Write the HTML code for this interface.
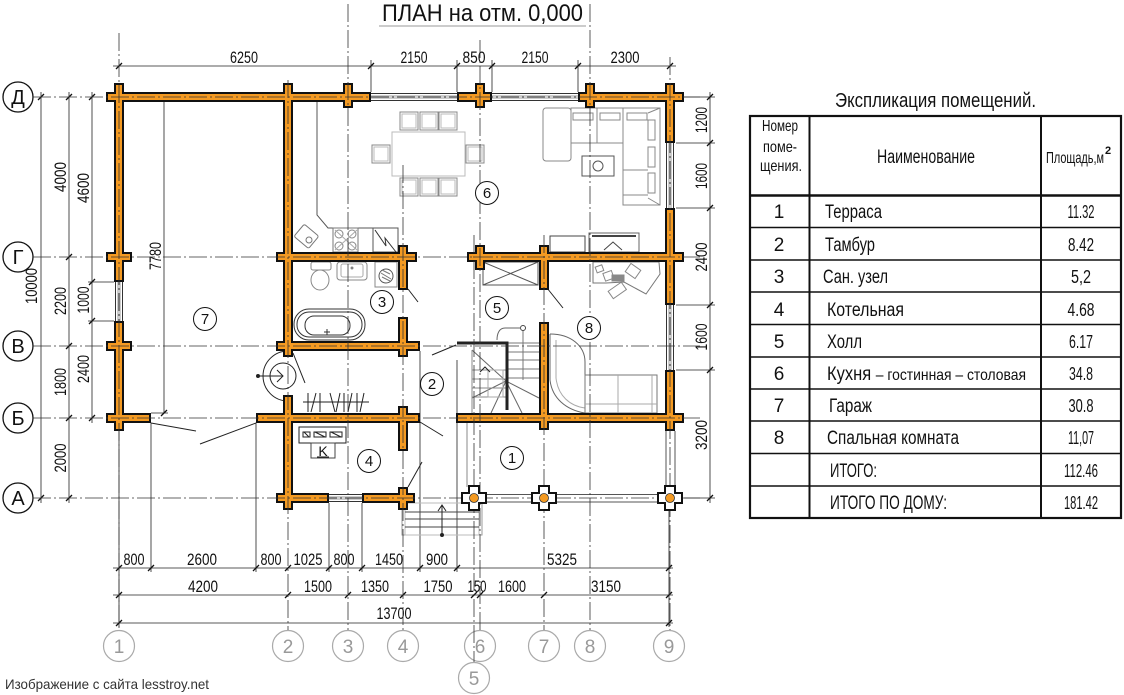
<!DOCTYPE html>
<html><head><meta charset="utf-8">
<style>
html,body{margin:0;padding:0;background:#fff;}
svg{display:block;}
text{font-family:"Liberation Sans Narrow","Liberation Sans","DejaVu Sans Condensed",sans-serif;fill:#111;}
</style></head><body>
<svg width="1124" height="695" viewBox="0 0 1124 695" xmlns="http://www.w3.org/2000/svg">
<rect width="1124" height="695" fill="#fff"/>

<!-- Title -->
<text x="382" y="21" font-size="24" textLength="201" lengthAdjust="spacingAndGlyphs">ПЛАН на отм. 0,000</text>
<line x1="379" y1="26" x2="586" y2="26" stroke="#999" stroke-width="1"/>

<!-- thin extension / dimension lines -->
<g stroke="#222" stroke-width="0.8" fill="none">
 <!-- top dim -->
 <line x1="113" y1="66" x2="676" y2="66"/>
 <line x1="371" y1="60" x2="371" y2="92"/>
 <line x1="457" y1="60" x2="457" y2="92"/>
 <line x1="492" y1="60" x2="492" y2="92"/>
 <line x1="578" y1="60" x2="578" y2="92"/>
 <!-- left dims -->
 <line x1="41" y1="92" x2="41" y2="503"/>
 <line x1="69" y1="92" x2="69" y2="503"/>
 <line x1="92" y1="92" x2="92" y2="423"/>
 <line x1="88" y1="282" x2="114" y2="282"/>
 <line x1="88" y1="321" x2="114" y2="321"/>
 <line x1="164" y1="97" x2="164" y2="413"/>
 <line x1="151" y1="413" x2="168" y2="413"/>
 <!-- right dims -->
 <line x1="710" y1="92" x2="710" y2="503"/>
 <line x1="684" y1="97" x2="715" y2="97"/>
 <line x1="676" y1="143" x2="715" y2="143"/>
 <line x1="676" y1="208" x2="715" y2="208"/>
 <line x1="676" y1="305" x2="715" y2="305"/>
 <line x1="676" y1="370" x2="715" y2="370"/>
 <line x1="684" y1="498" x2="715" y2="498"/>
 <!-- bottom dims -->
 <line x1="113" y1="568" x2="673" y2="568"/>
 <line x1="113" y1="595" x2="673" y2="595"/>
 <line x1="113" y1="623" x2="673" y2="623"/>
 <line x1="119" y1="431" x2="119" y2="627"/>
 <line x1="151" y1="423" x2="151" y2="572"/>
 <line x1="256" y1="423" x2="256" y2="572"/>
 <line x1="329" y1="503" x2="329" y2="572"/>
 <line x1="362" y1="503" x2="362" y2="572"/>
 <line x1="420" y1="351" x2="420" y2="572"/>
 <line x1="457" y1="360" x2="457" y2="572"/>
 <line x1="669" y1="510" x2="669" y2="627"/>
</g>
<!-- ticks -->
<g stroke="#111" stroke-width="1.3">
 <path d="M116 69L122 63M368 69L374 63M454 69L460 63M489 69L495 63M575 69L581 63M667 69L673 63"/>
 <path d="M38 100L44 94M38 501L44 495"/>
 <path d="M66 100L72 94M66 260L72 254M66 349L72 343M66 421L72 415M66 501L72 495"/>
 <path d="M89 100L95 94M89 285L95 279M89 324L95 318M89 421L95 415"/>
 <path d="M161 100L167 94M161 416L167 410"/>
 <path d="M707 100L713 94M707 146L713 140M707 211L713 205M707 308L713 302M707 373L713 367M707 501L713 495"/>
 <path d="M116 571L122 565M148 571L154 565M253 571L259 565M285 571L291 565M326 571L332 565M359 571L365 565M417 571L423 565M454 571L460 565M666 571L672 565"/>
 <path d="M116 598L122 592M285 598L291 592M345 598L351 592M400 598L406 592M471 598L477 592M477 598L483 592M541 598L547 592M666 598L672 592"/>
 <path d="M116 626L122 620M666 626L672 620"/>
</g>

<!-- dimension texts -->
<g font-size="17">
 <text x="244" y="63" text-anchor="middle" textLength="28" lengthAdjust="spacingAndGlyphs">6250</text>
 <text x="414" y="63" text-anchor="middle" textLength="27" lengthAdjust="spacingAndGlyphs">2150</text>
 <text x="474" y="63" text-anchor="middle" textLength="23" lengthAdjust="spacingAndGlyphs">850</text>
 <text x="535" y="63" text-anchor="middle" textLength="27" lengthAdjust="spacingAndGlyphs">2150</text>
 <text x="625" y="63" text-anchor="middle" textLength="29" lengthAdjust="spacingAndGlyphs">2300</text>

 <text transform="translate(37,286) rotate(-90)" text-anchor="middle" textLength="36" lengthAdjust="spacingAndGlyphs">10000</text>
 <text transform="translate(66,177) rotate(-90)" text-anchor="middle" textLength="30" lengthAdjust="spacingAndGlyphs">4000</text>
 <text transform="translate(66,301) rotate(-90)" text-anchor="middle" textLength="28" lengthAdjust="spacingAndGlyphs">2200</text>
 <text transform="translate(66,382) rotate(-90)" text-anchor="middle" textLength="28" lengthAdjust="spacingAndGlyphs">1800</text>
 <text transform="translate(66,458) rotate(-90)" text-anchor="middle" textLength="29" lengthAdjust="spacingAndGlyphs">2000</text>
 <text transform="translate(89,188) rotate(-90)" text-anchor="middle" textLength="30" lengthAdjust="spacingAndGlyphs">4600</text>
 <text transform="translate(89,300) rotate(-90)" text-anchor="middle" textLength="27" lengthAdjust="spacingAndGlyphs">1000</text>
 <text transform="translate(89,369) rotate(-90)" text-anchor="middle" textLength="28" lengthAdjust="spacingAndGlyphs">2400</text>
 <text transform="translate(161,256) rotate(-90)" text-anchor="middle" textLength="28" lengthAdjust="spacingAndGlyphs">7780</text>

 <text transform="translate(707,120) rotate(-90)" text-anchor="middle" textLength="26" lengthAdjust="spacingAndGlyphs">1200</text>
 <text transform="translate(707,176) rotate(-90)" text-anchor="middle" textLength="26" lengthAdjust="spacingAndGlyphs">1600</text>
 <text transform="translate(707,257) rotate(-90)" text-anchor="middle" textLength="29" lengthAdjust="spacingAndGlyphs">2400</text>
 <text transform="translate(707,337) rotate(-90)" text-anchor="middle" textLength="27" lengthAdjust="spacingAndGlyphs">1600</text>
 <text transform="translate(707,435) rotate(-90)" text-anchor="middle" textLength="30" lengthAdjust="spacingAndGlyphs">3200</text>

 <text x="134" y="565" text-anchor="middle" textLength="21" lengthAdjust="spacingAndGlyphs">800</text>
 <text x="202" y="565" text-anchor="middle" textLength="30" lengthAdjust="spacingAndGlyphs">2600</text>
 <text x="271" y="565" text-anchor="middle" textLength="21" lengthAdjust="spacingAndGlyphs">800</text>
 <text x="308" y="565" text-anchor="middle" textLength="29" lengthAdjust="spacingAndGlyphs">1025</text>
 <text x="344" y="565" text-anchor="middle" textLength="21" lengthAdjust="spacingAndGlyphs">800</text>
 <text x="389" y="565" text-anchor="middle" textLength="28" lengthAdjust="spacingAndGlyphs">1450</text>
 <text x="437" y="565" text-anchor="middle" textLength="22" lengthAdjust="spacingAndGlyphs">900</text>
 <text x="562" y="565" text-anchor="middle" textLength="30" lengthAdjust="spacingAndGlyphs">5325</text>

 <text x="203" y="592" text-anchor="middle" textLength="30" lengthAdjust="spacingAndGlyphs">4200</text>
 <text x="318" y="592" text-anchor="middle" textLength="28" lengthAdjust="spacingAndGlyphs">1500</text>
 <text x="375" y="592" text-anchor="middle" textLength="28" lengthAdjust="spacingAndGlyphs">1350</text>
 <text x="438" y="592" text-anchor="middle" textLength="29" lengthAdjust="spacingAndGlyphs">1750</text>
 <text x="477" y="592" text-anchor="middle" textLength="19" lengthAdjust="spacingAndGlyphs">150</text>
 <text x="512" y="592" text-anchor="middle" textLength="28" lengthAdjust="spacingAndGlyphs">1600</text>
 <text x="606" y="592" text-anchor="middle" textLength="30" lengthAdjust="spacingAndGlyphs">3150</text>

 <text x="394" y="619" text-anchor="middle" textLength="35" lengthAdjust="spacingAndGlyphs">13700</text>
</g>

<!-- left axis circles -->
<g stroke="#111" stroke-width="1.3" fill="#fff">
 <circle cx="18" cy="97" r="15"/>
 <circle cx="18" cy="257" r="15"/>
 <circle cx="18" cy="346" r="15"/>
 <circle cx="18" cy="418" r="15"/>
 <circle cx="18" cy="498" r="15"/>
</g>
<g font-size="20" text-anchor="middle">
 <text x="18" y="104">Д</text>
 <text x="18" y="264">Г</text>
 <text x="18" y="353">В</text>
 <text x="18" y="425">Б</text>
 <text x="18" y="505">А</text>
</g>

<!-- bottom axis circles -->
<g stroke="#aaa" stroke-width="1.2" fill="#fff">
 <circle cx="119" cy="646" r="15.5"/>
 <circle cx="288" cy="646" r="15.5"/>
 <circle cx="348" cy="646" r="15.5"/>
 <circle cx="403" cy="646" r="15.5"/>
 <circle cx="474" cy="678" r="15.5"/>
 <circle cx="480" cy="646" r="15.5"/>
 <circle cx="544" cy="646" r="15.5"/>
 <circle cx="590" cy="646" r="15.5"/>
 <circle cx="669" cy="646" r="15.5"/>
</g>
<g font-size="19" text-anchor="middle" style="fill:#999">
 <text x="119" y="653" style="fill:#999">1</text>
 <text x="288" y="653" style="fill:#999">2</text>
 <text x="348" y="653" style="fill:#999">3</text>
 <text x="403" y="653" style="fill:#999">4</text>
 <text x="474" y="685" style="fill:#999">5</text>
 <text x="480" y="653" style="fill:#999">6</text>
 <text x="544" y="653" style="fill:#999">7</text>
 <text x="590" y="653" style="fill:#999">8</text>
 <text x="669" y="653" style="fill:#999">9</text>
</g>

<!-- furniture & fine lines -->
<g stroke="#888" stroke-width="1" fill="none">
 <!-- dining -->
 <rect x="392" y="132" width="73" height="44" stroke="#bbb"/>
 <rect x="400" y="112" width="18" height="18"/><rect x="402" y="114" width="14" height="14" stroke="#bbb"/>
 <rect x="420" y="112" width="18" height="18"/><rect x="422" y="114" width="14" height="14" stroke="#bbb"/>
 <rect x="439" y="112" width="18" height="18"/><rect x="441" y="114" width="14" height="14" stroke="#bbb"/>
 <rect x="400" y="178" width="18" height="18"/><rect x="402" y="180" width="14" height="14" stroke="#bbb"/>
 <rect x="420" y="178" width="18" height="18"/><rect x="422" y="180" width="14" height="14" stroke="#bbb"/>
 <rect x="439" y="178" width="18" height="18"/><rect x="441" y="180" width="14" height="14" stroke="#bbb"/>
 <rect x="372" y="145" width="18" height="18"/><rect x="374" y="147" width="14" height="14" stroke="#bbb"/>
 <rect x="466" y="145" width="18" height="18"/><rect x="468" y="147" width="14" height="14" stroke="#bbb"/>
 <!-- sofa -->
 <rect x="543" y="108" width="28" height="53" rx="3"/>
 <path d="M571 108H660V205H623V143H571Z"/>
 <path d="M597 108V143M623 108V143M623 170H648M623 195H648M648 113L660 108M648 198L660 205"/>
 <rect x="573" y="113" width="20" height="7"/><rect x="600" y="113" width="20" height="7"/><rect x="627" y="113" width="20" height="7"/>
 <rect x="648" y="120" width="7" height="20"/><rect x="648" y="147" width="7" height="20"/><rect x="648" y="173" width="7" height="20"/>
 <rect x="582" y="156" width="32" height="20" stroke="#555"/>
 <circle cx="598" cy="166" r="5" stroke="#555"/>
 <!-- kitchen -->
 <path d="M317 100V215L328 228H398" stroke="#555"/>
 <rect x="297" y="228" width="19" height="16" rx="2" transform="rotate(40 306 236)" stroke="#777"/>
 <circle cx="309" cy="240" r="3" stroke="#777"/>
 <rect x="333" y="228" width="25" height="24" stroke="#777"/>
 <circle cx="339" cy="234" r="4"/><circle cx="352" cy="234" r="4"/><circle cx="339" cy="246" r="4"/><circle cx="352" cy="246" r="4"/>
 <path d="M335 230L357 250M357 230L335 250" stroke="#aaa"/>
 <rect x="373" y="228" width="25" height="24" stroke="#555"/>
 <polyline points="375,230 386,246 385,238 396,252" stroke="#333"/>
 <!-- tv unit -->
 <rect x="589" y="233" width="50" height="19" stroke="#666"/>
 <line x1="592" y1="236" x2="636" y2="236" stroke="#444" stroke-width="2"/>
 <polyline points="604,250 613,242 622,250" stroke="#444"/>
 <rect x="550" y="236" width="35" height="16" stroke="#444"/>
 <!-- bathroom -->
 <rect x="311" y="262" width="20" height="8" rx="2"/>
 <ellipse cx="320" cy="280" rx="9" ry="10"/>
 <rect x="337" y="262" width="30" height="18" rx="3"/>
 <rect x="341" y="264" width="22" height="13" rx="2" stroke="#aaa"/>
 <circle cx="352" cy="268" r="1" fill="#666"/>
 <rect x="375" y="262" width="22" height="25"/>
 <circle cx="386" cy="276" r="7" stroke="#555"/>
 <path d="M381 273L391 279M382 277L390 281M382 270L390 274" stroke="#777"/>
 <rect x="294" y="309" width="71" height="31" rx="15" stroke="#333"/>
 <rect x="297" y="312" width="65" height="25" rx="12" stroke="#333"/>
 <rect x="305" y="316" width="45" height="19" rx="9" stroke="#333"/>
 <path d="M324 332H330M327 329V335" stroke="#333"/>
 <!-- boiler -->
 <rect x="299" y="427" width="47" height="16" stroke="#222"/>
 <rect x="303" y="432" width="7" height="5" stroke="#222"/>
 <rect x="314" y="432" width="12" height="5" stroke="#222"/>
 <rect x="330" y="432" width="12" height="5" stroke="#222"/>
 <path d="M304 432L309 437M315 432L325 437M331 432L341 437" stroke="#222"/>
 <rect x="311" y="443" width="24" height="15" stroke="#444"/>
 <!-- hall 5 -->
 <rect x="483" y="262" width="55" height="23" stroke="#555"/>
 <path d="M483 262L538 285M538 262L483 285" stroke="#555"/>
 <!-- bedroom desk -->
 <path d="M593 262H659L660 274L646 294L624 282L606 283H593Z" stroke="#777"/>
 <rect x="596" y="266" width="7" height="6" transform="rotate(-20 599 269)"/>
 <rect x="604" y="272" width="9" height="8" transform="rotate(-20 608 276)"/>
 <rect x="612" y="275" width="12" height="6" fill="#888"/>
 <rect x="627" y="266" width="12" height="10" transform="rotate(35 633 271)"/>
 <rect x="609" y="286" width="16" height="9" transform="rotate(-35 617 290)"/>
 <!-- bedroom sofa -->
 <path d="M550 334C571 334 585 346 585 362V413" stroke="#666"/>
 <path d="M550 334V380C552 398 566 410 585 413" stroke="#666"/>
 <path d="M556 340V378C558 396 570 406 585 408" stroke="#aaa"/>
 <rect x="585" y="375" width="72" height="38" stroke="#777"/>
 <path d="M618 375V413M585 404H657M652 375V413" stroke="#aaa"/>
 <!-- stairs -->
 <path d="M507 343H539M507 352H539M507 360H539M507 369H539M507 378H539" stroke="#777"/>
 <path d="M523 330V380" stroke="#777"/>
 <circle cx="523" cy="328" r="2.5" stroke="#444"/>
 <path d="M521 328H505C499 328 497 334 497 340" stroke="#666"/>
 <path d="M506 381L539 398M506 381L522 413M506 381L491 413M506 381L472 398M472 350L506 381" stroke="#666"/>
 <path d="M472 350V413M472 370H506M472 379H506M472 388H506M472 397H506" stroke="#888"/>
 <rect x="488" y="370" width="15" height="27" stroke="#aaa"/>
 <path d="M480 372L485 367L490 372" stroke="#222"/>
 <!-- steps -->
 <rect x="402" y="503" width="80" height="32" stroke="#999"/>
 <rect x="405" y="503" width="74" height="32" stroke="#bbb"/>
 <path d="M405 512H479M405 519H479M405 527H479" stroke="#444"/>
 <!-- terrace railing -->
 <path d="M486 494.5H660M486 502H660" stroke="#555"/>
 <path d="M666 431V487M675 431V487" stroke="#555"/>
 <path d="M467 423V487" stroke="#888"/>
</g>

<!-- door swing lines & misc black -->
<g stroke="#222" stroke-width="1" fill="none">
 <path d="M151 423L196 431M200 444L256 423"/>
 <path d="M408 289L418 302M293 353L305 383M432 355L456 345M420 422L443 436M408 487L422 462M547 288L563 308"/>
 <path d="M288 351A25 25 0 0 0 288 401"/>
 <circle cx="283" cy="376" r="13"/>
 <path d="M258 376H283M277 370L283 376L277 382"/>
 <circle cx="258" cy="376" r="1.5" fill="#222"/>
 <path d="M303 402H369"/>
 <path d="M308 393V412M311 412L316 393M320 393V412M330 393L335 412M336 412L340 393M344 393V412M348 412L352 393M357 393V412M360 412L364 393"/>
 <path d="M457 343H507V410" stroke-width="3"/>
 <path d="M442 535V506M438 511L442 505L446 511"/>
 <circle cx="442" cy="535" r="1.5" fill="#222"/>
</g>

<!-- walls: black outline layer -->
<g fill="#111">
 <rect x="106" y="92" width="265" height="10"/>
 <rect x="457" y="92" width="35" height="10"/>
 <rect x="578" y="92" width="106" height="10"/>
 <rect x="276" y="252" width="141" height="10"/>
 <rect x="467" y="252" width="217" height="10"/>
 <rect x="106" y="252" width="26" height="10"/>
 <rect x="106" y="341" width="26" height="10"/>
 <rect x="276" y="341" width="144" height="10"/>
 <rect x="106" y="413" width="45" height="10"/>
 <rect x="256" y="413" width="164" height="10"/>
 <rect x="456" y="413" width="228" height="10"/>
 <rect x="276" y="493" width="53" height="10"/>
 <rect x="362" y="493" width="53" height="10"/>
 <rect x="114" y="83" width="10" height="199"/>
 <rect x="114" y="321" width="10" height="110"/>
 <rect x="283" y="83" width="10" height="274"/>
 <rect x="283" y="395" width="10" height="115"/>
 <rect x="343" y="83" width="10" height="25"/>
 <rect x="398" y="245" width="10" height="45"/>
 <rect x="398" y="317" width="10" height="40"/>
 <rect x="398" y="406" width="10" height="45"/>
 <rect x="398" y="487" width="10" height="23"/>
 <rect x="475" y="83" width="10" height="25"/>
 <rect x="475" y="245" width="10" height="25"/>
 <rect x="539" y="245" width="10" height="45"/>
 <rect x="539" y="322" width="10" height="108"/>
 <rect x="585" y="83" width="10" height="25"/>
 <rect x="665" y="83" width="10" height="60"/>
 <rect x="665" y="208" width="10" height="97"/>
 <rect x="665" y="370" width="10" height="61"/>
</g>
<g fill="#F49A22">
 <rect x="108" y="94" width="261" height="6"/>
 <rect x="459" y="94" width="31" height="6"/>
 <rect x="580" y="94" width="102" height="6"/>
 <rect x="278" y="254" width="137" height="6"/>
 <rect x="469" y="254" width="213" height="6"/>
 <rect x="108" y="254" width="22" height="6"/>
 <rect x="108" y="343" width="22" height="6"/>
 <rect x="278" y="343" width="140" height="6"/>
 <rect x="108" y="415" width="41" height="6"/>
 <rect x="258" y="415" width="160" height="6"/>
 <rect x="458" y="415" width="224" height="6"/>
 <rect x="278" y="495" width="49" height="6"/>
 <rect x="364" y="495" width="49" height="6"/>
 <rect x="116" y="85" width="6" height="195"/>
 <rect x="116" y="323" width="6" height="106"/>
 <rect x="285" y="85" width="6" height="270"/>
 <rect x="285" y="397" width="6" height="111"/>
 <rect x="345" y="85" width="6" height="21"/>
 <rect x="400" y="247" width="6" height="41"/>
 <rect x="400" y="319" width="6" height="36"/>
 <rect x="400" y="408" width="6" height="41"/>
 <rect x="400" y="489" width="6" height="19"/>
 <rect x="477" y="85" width="6" height="21"/>
 <rect x="477" y="247" width="6" height="21"/>
 <rect x="541" y="247" width="6" height="41"/>
 <rect x="541" y="324" width="6" height="104"/>
 <rect x="587" y="85" width="6" height="21"/>
 <rect x="667" y="85" width="6" height="56"/>
 <rect x="667" y="210" width="6" height="93"/>
 <rect x="667" y="372" width="6" height="57"/>
</g>

<!-- windows -->
<g stroke="#333" stroke-width="1" fill="none">
 <path d="M371 93.5H457M371 100.5H457M492 93.5H578M492 100.5H578"/>
 <path d="M115.5 282V321M122.5 282V321"/>
 <path d="M666.5 143V208M673.5 143V208M666.5 305V370M673.5 305V370"/>
 <path d="M329 494.5H362M329 501.5H362"/>
</g>
<g stroke="#999" stroke-width="1" fill="none">
 <path d="M371 96H457M371 98H457M492 96H578M492 98H578"/>
 <path d="M118 282V321M120 282V321"/>
 <path d="M669 143V208M671 143V208M669 305V370M671 305V370"/>
 <path d="M329 497H362M329 499H362"/>
</g>

<!-- axes (dash-dot) -->
<g stroke="#333" stroke-width="0.8" stroke-dasharray="18 3 2 3" fill="none">
 <line x1="33" y1="97" x2="700" y2="97"/>
 <line x1="33" y1="257" x2="700" y2="257"/>
 <line x1="33" y1="346" x2="700" y2="346"/>
 <line x1="33" y1="418" x2="700" y2="418"/>
 <line x1="33" y1="498" x2="700" y2="498"/>
 <line x1="119" y1="33" x2="119" y2="630"/>
 <line x1="288" y1="80" x2="288" y2="630"/>
 <line x1="348" y1="4" x2="348" y2="630"/>
 <line x1="403" y1="165" x2="403" y2="630"/>
 <line x1="474" y1="235" x2="474" y2="662"/>
 <line x1="480" y1="40" x2="480" y2="630"/>
 <line x1="544" y1="235" x2="544" y2="630"/>
 <line x1="590" y1="4" x2="590" y2="630"/>
 <line x1="670" y1="57" x2="670" y2="630"/>
</g>

<!-- terrace posts -->
<g stroke="#111" stroke-width="2" fill="#fff">
 <polygon points="469,486 479,486 479,493 486,493 486,503 479,503 479,510 469,510 469,503 462,503 462,493 469,493"/>
 <polygon points="539,486 549,486 549,493 556,493 556,503 549,503 549,510 539,510 539,503 532,503 532,493 539,493"/>
 <polygon points="665,486 675,486 675,493 682,493 682,503 675,503 675,510 665,510 665,503 658,503 658,493 665,493"/>
</g>
<g fill="#F49A22" stroke="#333" stroke-width="0.8">
 <circle cx="474" cy="498" r="4.5"/>
 <circle cx="544" cy="498" r="4.5"/>
 <circle cx="670" cy="498" r="4.5"/>
</g>

<!-- room numbers -->
<g stroke="#111" stroke-width="1" fill="#fff">
 <circle cx="487" cy="193" r="11.5"/>
 <circle cx="205" cy="319" r="11.5"/>
 <circle cx="382" cy="302" r="11.5"/>
 <circle cx="432" cy="384" r="11.5"/>
 <circle cx="369" cy="461" r="11.5"/>
 <circle cx="497" cy="308" r="11.5"/>
 <circle cx="589" cy="328" r="11.5"/>
 <circle cx="512" cy="458" r="11.5"/>
</g>
<g font-size="15" text-anchor="middle">
 <text x="487" y="198">6</text>
 <text x="205" y="324">7</text>
 <text x="382" y="307">3</text>
 <text x="432" y="389">2</text>
 <text x="369" y="466">4</text>
 <text x="497" y="313">5</text>
 <text x="589" y="333">8</text>
 <text x="512" y="463">1</text>
</g>
<text x="323" y="456" font-size="14" text-anchor="middle">K</text>
<line x1="317" y1="457" x2="329" y2="457" stroke="#111" stroke-width="1"/>

<!-- Table -->
<text x="835" y="107" font-size="20" textLength="201" lengthAdjust="spacingAndGlyphs">Экспликация помещений.</text>
<g stroke="#111" fill="none">
 <rect x="750" y="116" width="371" height="402" stroke-width="2.2"/>
 <line x1="809.5" y1="116" x2="809.5" y2="518" stroke-width="2"/>
 <line x1="1041" y1="116" x2="1041" y2="518" stroke-width="2"/>
 <line x1="750" y1="195.5" x2="1121" y2="195.5" stroke-width="2.4"/>
 <g stroke-width="1.5">
  <line x1="750" y1="227.5" x2="1121" y2="227.5"/>
  <line x1="750" y1="260" x2="1121" y2="260"/>
  <line x1="750" y1="292" x2="1121" y2="292"/>
  <line x1="750" y1="324.5" x2="1121" y2="324.5"/>
  <line x1="750" y1="357" x2="1121" y2="357"/>
  <line x1="750" y1="389" x2="1121" y2="389"/>
  <line x1="750" y1="421" x2="1121" y2="421"/>
  <line x1="750" y1="453.5" x2="1121" y2="453.5"/>
  <line x1="750" y1="486" x2="1121" y2="486"/>
 </g>
</g>
<g font-size="16" text-anchor="middle">
 <text x="780" y="131" textLength="36" lengthAdjust="spacingAndGlyphs">Номер</text>
 <text x="780" y="152" textLength="34" lengthAdjust="spacingAndGlyphs">поме-</text>
 <text x="781" y="171" textLength="42" lengthAdjust="spacingAndGlyphs">щения.</text>
</g>
<text x="877" y="163" font-size="19" textLength="98" lengthAdjust="spacingAndGlyphs">Наименование</text>
<text x="1046" y="163" font-size="16" textLength="58" lengthAdjust="spacingAndGlyphs">Площадь,м</text>
<text x="1105" y="154" font-size="11" font-weight="bold">2</text>

<g font-size="19" text-anchor="middle">
 <text x="779" y="218">1</text>
 <text x="779" y="251">2</text>
 <text x="779" y="283">3</text>
 <text x="779" y="316">4</text>
 <text x="779" y="348">5</text>
 <text x="779" y="380">6</text>
 <text x="779" y="412">7</text>
 <text x="779" y="444">8</text>
</g>
<g font-size="19">
 <text x="825" y="218" textLength="57" lengthAdjust="spacingAndGlyphs">Терраса</text>
 <text x="825" y="251" textLength="50" lengthAdjust="spacingAndGlyphs">Тамбур</text>
 <text x="823" y="283" textLength="65" lengthAdjust="spacingAndGlyphs">Сан. узел</text>
 <text x="827" y="316" textLength="77" lengthAdjust="spacingAndGlyphs">Котельная</text>
 <text x="827" y="348" textLength="35" lengthAdjust="spacingAndGlyphs">Холл</text>
 <text x="827" y="380" textLength="199" lengthAdjust="spacingAndGlyphs">Кухня <tspan font-size="16">– гостинная – столовая</tspan></text>
 <text x="829" y="412" textLength="43" lengthAdjust="spacingAndGlyphs">Гараж</text>
 <text x="827" y="444" textLength="132" lengthAdjust="spacingAndGlyphs">Спальная комната</text>
 <text x="830" y="477" textLength="47" lengthAdjust="spacingAndGlyphs">ИТОГО:</text>
 <text x="830" y="509" textLength="117" lengthAdjust="spacingAndGlyphs">ИТОГО ПО ДОМУ:</text>
</g>
<g font-size="18" text-anchor="middle">
 <text x="1081" y="218" textLength="27" lengthAdjust="spacingAndGlyphs">11.32</text>
 <text x="1081" y="251" textLength="26" lengthAdjust="spacingAndGlyphs">8.42</text>
 <text x="1081" y="283" textLength="20" lengthAdjust="spacingAndGlyphs">5,2</text>
 <text x="1081" y="316" textLength="27" lengthAdjust="spacingAndGlyphs">4.68</text>
 <text x="1081" y="348" textLength="24" lengthAdjust="spacingAndGlyphs">6.17</text>
 <text x="1081" y="380" textLength="24" lengthAdjust="spacingAndGlyphs">34.8</text>
 <text x="1081" y="412" textLength="25" lengthAdjust="spacingAndGlyphs">30.8</text>
 <text x="1081" y="444" textLength="26" lengthAdjust="spacingAndGlyphs">11,07</text>
 <text x="1081" y="477" textLength="34" lengthAdjust="spacingAndGlyphs">112.46</text>
 <text x="1081" y="509" textLength="34" lengthAdjust="spacingAndGlyphs">181.42</text>
</g>

<!-- watermark -->
<text x="5" y="689" font-size="14" textLength="204" lengthAdjust="spacingAndGlyphs" style="font-family:'Liberation Sans',sans-serif;fill:#333">Изображение с сайта lesstroy.net</text>
</svg>
</body></html>
